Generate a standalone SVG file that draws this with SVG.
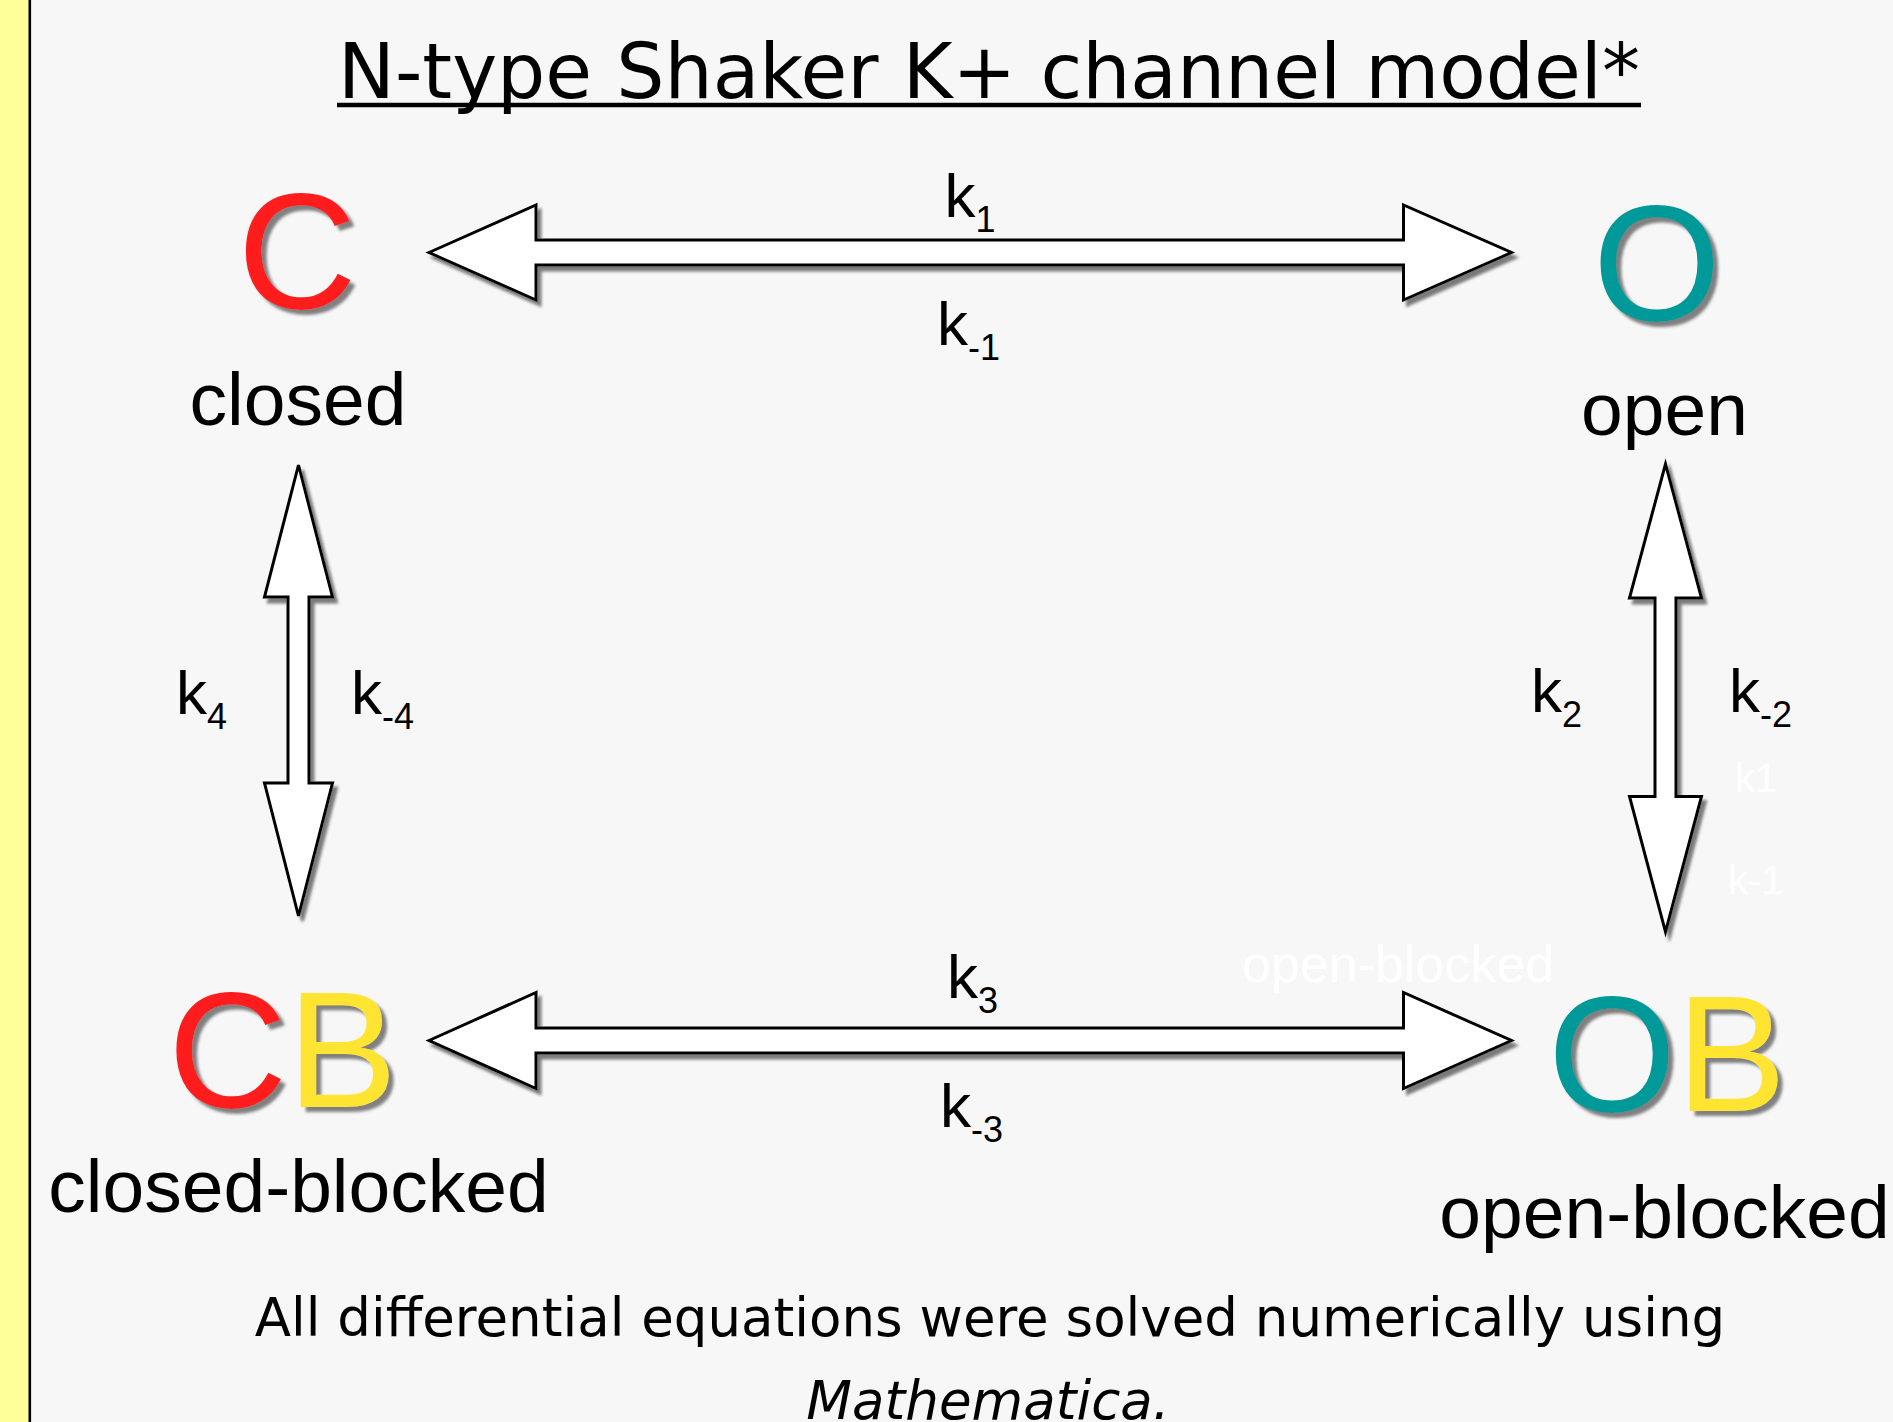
<svg xmlns="http://www.w3.org/2000/svg" width="1893" height="1422" viewBox="0 0 1893 1422">
  <defs>
    <style>
      .state { font-family: "Liberation Sans", Arial, sans-serif; font-size: 165px; filter: url(#dropShadow); }
      .label { font-family: "Liberation Sans", Arial, sans-serif; font-size: 75px; fill: #000; text-anchor: middle; }
      .rate { font-family: "Liberation Sans", Arial, sans-serif; font-size: 62px; fill: #000; }
      .rate tspan.sub { font-size: 36px; }
      .ghost { font-family: "Liberation Sans", Arial, sans-serif; fill: #ffffff; }
      .arrow { fill: #ffffff; stroke: #000; stroke-width: 3; stroke-linejoin: miter; filter: url(#arrowShadow); }
      .serif-note { font-family: "DejaVu Sans", Verdana, sans-serif; fill: #000; text-anchor: middle; }
      .red { fill: #ff1f1f; }
      .teal { fill: #009999; }
      .yellow { fill: #ffe533; }
    </style>
    <filter id="dropShadow" x="-10%" y="-10%" width="130%" height="130%">
      <feGaussianBlur in="SourceAlpha" stdDeviation="1.4" result="blur"/>
      <feOffset in="blur" dx="5" dy="5" result="off"/>
      <feFlood flood-color="#808080"/>
      <feComposite in2="off" operator="in" result="shadow"/>
      <feMerge>
        <feMergeNode in="shadow"/>
        <feMergeNode in="SourceGraphic"/>
      </feMerge>
    </filter>
    <filter id="arrowShadow" x="-10%" y="-20%" width="130%" height="150%">
      <feGaussianBlur in="SourceAlpha" stdDeviation="1.8" result="blur"/>
      <feOffset in="blur" dx="4" dy="5" result="off"/>
      <feFlood flood-color="#7a7a7a"/>
      <feComposite in2="off" operator="in" result="shadow"/>
      <feMerge>
        <feMergeNode in="shadow"/>
        <feMergeNode in="SourceGraphic"/>
      </feMerge>
    </filter>
  </defs>

  <!-- slide background and left margin bar -->
  <rect x="0" y="0" width="1893" height="1422" fill="#f7f7f7"/>
  <rect x="0" y="0" width="28.5" height="1422" fill="#ffff99"/>
  <line x1="29.8" y1="0" x2="29.8" y2="1422" stroke="#000" stroke-width="2.6"/>

  <!-- title -->
  <g id="title">
    <text x="989" y="98" class="serif-note" font-size="76">N-type Shaker K+ channel model*</text>
    <line x1="337" y1="105" x2="1641" y2="105" stroke="#000" stroke-width="4.5"/>
  </g>

  <!-- states -->
  <g id="node-C">
    <text x="297" y="308" class="state red" text-anchor="middle">C</text>
    <text x="298" y="425" class="label">closed</text>
  </g>
  <g id="node-O">
    <text x="1657" y="320" class="state teal" text-anchor="middle">O</text>
    <text x="1664.5" y="435" class="label">open</text>
  </g>
  <g id="node-CB">
    <text x="168" y="1107" class="state" font-size="161"><tspan class="red">C</tspan><tspan class="yellow">B</tspan></text>
    <text x="298.5" y="1212" class="label">closed-blocked</text>
  </g>
  <g id="node-OB">
    <text x="1548" y="1111" class="state" font-size="163"><tspan class="teal">O</tspan><tspan class="yellow">B</tspan></text>
    <text x="1664.5" y="1238" class="label">open-blocked</text>
  </g>

  <!-- transitions: double-headed block arrows with rate constants -->
  <g id="connectors">
    <!-- C <-> O -->
    <path class="arrow" d="M429,252.5 L536,205 L536,240 L1403.5,240 L1403.5,205 L1511.5,252.5 L1403.5,300 L1403.5,265 L536,265 L536,300 Z"/>
    <text class="rate" x="944.5" y="217">k<tspan class="sub" dy="15">1</tspan></text>
    <text class="rate" x="937" y="345">k<tspan class="sub" dy="15">-1</tspan></text>

    <!-- CB <-> OB -->
    <path class="arrow" d="M429,1040.5 L536,992.5 L536,1028 L1403.5,1028 L1403.5,992.5 L1511.5,1040.5 L1403.5,1088.5 L1403.5,1053 L536,1053 L536,1088.5 Z"/>
    <text class="rate" x="947" y="998">k<tspan class="sub" dy="15">3</tspan></text>
    <text class="rate" x="940" y="1127">k<tspan class="sub" dy="15">-3</tspan></text>

    <!-- C <-> CB -->
    <path class="arrow" d="M298.5,465 L332.5,597 L309,597 L309,783 L332.5,783 L298.5,916 L264.5,783 L288,783 L288,597 L264.5,597 Z"/>
    <text class="rate" x="176" y="714">k<tspan class="sub" dy="15">4</tspan></text>
    <text class="rate" x="351" y="714">k<tspan class="sub" dy="15">-4</tspan></text>

    <!-- O <-> OB -->
    <path class="arrow" d="M1665.5,464 L1701.5,598 L1676,598 L1676,796.5 L1701.5,796.5 L1665.5,932 L1629.5,796.5 L1655,796.5 L1655,598 L1629.5,598 Z"/>
    <text class="rate" x="1531" y="712">k<tspan class="sub" dy="15">2</tspan></text>
    <text class="rate" x="1729" y="712">k<tspan class="sub" dy="15">-2</tspan></text>
  </g>

  <!-- faint leftover labels in white -->
  <g id="ghost-labels">
    <text class="ghost" x="1735" y="792" font-size="40">k1</text>
    <text class="ghost" x="1728" y="894" font-size="40">k-1</text>
    <text class="ghost" x="1242" y="982" font-size="52">open-blocked</text>
  </g>

  <!-- footnote -->
  <g id="footnote">
    <text x="990" y="1336" class="serif-note" font-size="53">All differential equations were solved numerically using</text>
    <text x="988" y="1419" class="serif-note" font-size="53" font-style="italic">Mathematica.</text>
  </g>
</svg>
